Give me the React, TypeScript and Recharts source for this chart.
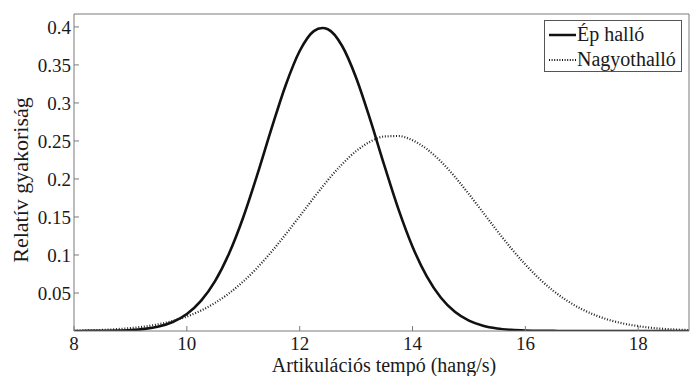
import { Legend, Line, LineChart, XAxis, YAxis } from "recharts";

// articulation rate (syllables/s)
const tempo = [
  8, 8.25, 8.5, 8.75, 9, 9.25, 9.5, 9.75, 10, 10.25, 10.5, 10.75, 11, 11.25, 11.5, 11.75, 12, 12.25, 12.4, 12.5,
  12.75, 13, 13.25, 13.5, 13.75, 14, 14.25, 14.5, 14.75, 15, 15.25, 15.5, 15.75, 16, 16.25, 16.5, 16.75, 17, 17.25,
  17.5, 17.75, 18, 18.25, 18.5, 18.75, 19,
];

const normalHearing = [
  0.0, 0.0001, 0.0002, 0.0005, 0.0012, 0.0028, 0.006, 0.0119, 0.0224, 0.0396, 0.0656, 0.1023, 0.1497, 0.2059, 0.2661,
  0.323, 0.3683, 0.3945, 0.3985, 0.3969, 0.3752, 0.3332, 0.278, 0.2179, 0.1604, 0.1109, 0.0721, 0.044, 0.0252, 0.0136,
  0.0069, 0.0033, 0.0015, 0.0006, 0.0002, 0.0001, 0, 0, 0, 0, 0, 0, 0, 0, 0, 0,
];

const hardOfHearing = [
  0.0005, 0.0009, 0.0014, 0.0024, 0.0038, 0.0059, 0.0089, 0.0132, 0.019, 0.0269, 0.037, 0.0497, 0.0652, 0.0834, 0.1042,
  0.127, 0.151, 0.1753, 0.1894, 0.1985, 0.2194, 0.2366, 0.2491, 0.2559, 0.2565, 0.2509, 0.2395, 0.2232, 0.2029, 0.18,
  0.1559, 0.1317, 0.1086, 0.0874, 0.0686, 0.0526, 0.0393, 0.0287, 0.0205, 0.0142, 0.0096, 0.0064, 0.0041, 0.0026,
  0.0016, 0.001,
];

const xTicks = [8, 10, 12, 14, 16, 18];
const yTicks = [0.05, 0.1, 0.15, 0.2, 0.25, 0.3, 0.35, 0.4];

const data = tempo.map((x, i) => ({ x, ep: normalHearing[i], nagy: hardOfHearing[i] }));

const FONT = "Liberation Serif, Times New Roman, serif";
const FRAME = "#7a7a7a";
const TEXT = "#1a1a1a";

function LegendBox() {
  const rows = [
    { label: "Ép halló", dash: undefined as string | undefined, width: 2.5 },
    { label: "Nagyothalló", dash: "1 1.6", width: 2 },
  ];
  return (
    <div
      style={{
        boxSizing: "border-box",
        width: 138,
        height: 52,
        border: "1px solid #555",
        background: "#fff",
        fontFamily: FONT,
        fontSize: 20,
        color: TEXT,
        padding: "1px 0 0 4px",
        lineHeight: "25px",
      }}
    >
      {rows.map((row) => (
        <div key={row.label} style={{ display: "flex", alignItems: "center", whiteSpace: "nowrap" }}>
          <svg height={6} width={27} style={{ marginRight: 1, flex: "none" }}>
            <line stroke="#111" strokeDasharray={row.dash} strokeWidth={row.width} x1={0} x2={27} y1={3} y2={3} />
          </svg>
          <span>{row.label}</span>
        </div>
      ))}
    </div>
  );
}

export default function App() {
  return (
    <div style={{ position: "absolute", left: 0, top: 0, width: 690, height: 376, background: "#fff" }}>
      <LineChart data={data} height={376} margin={{ top: 13, right: 0, bottom: 44, left: 73 }} width={690}>
        <XAxis
          allowDataOverflow
          axisLine={{ stroke: FRAME }}
          dataKey="x"
          domain={[8, 18.9]}
          fontFamily={FONT}
          fontSize={19}
          height={1}
          tick={{ fill: TEXT, fontFamily: FONT, fontSize: 19 }}
          tickLine={{ stroke: FRAME }}
          tickMargin={11}
          tickSize={-5}
          ticks={xTicks}
          type="number"
          xAxisId="bottom"
        />
        <XAxis
          allowDataOverflow
          axisLine={{ stroke: FRAME }}
          dataKey="x"
          domain={[8, 18.9]}
          height={1}
          orientation="top"
          tick={false}
          tickLine={{ stroke: FRAME }}
          tickSize={-5}
          ticks={xTicks}
          type="number"
          xAxisId="top"
        />
        <YAxis
          allowDataOverflow
          axisLine={{ stroke: FRAME }}
          domain={[0, 0.417]}
          fontFamily={FONT}
          fontSize={19}
          tick={{ fill: TEXT, fontFamily: FONT, fontSize: 19 }}
          tickLine={{ stroke: FRAME }}
          tickMargin={8}
          tickSize={-5}
          ticks={yTicks}
          type="number"
          width={1}
          yAxisId="left"
        />
        <YAxis
          allowDataOverflow
          axisLine={{ stroke: FRAME }}
          domain={[0, 0.417]}
          orientation="right"
          tick={false}
          tickLine={{ stroke: FRAME }}
          tickSize={-5}
          ticks={yTicks}
          type="number"
          width={1}
          yAxisId="right"
        />
        <Legend
          align="center"
          content={() => <LegendBox />}
          layout="vertical"
          verticalAlign="middle"
          wrapperStyle={{ top: 20, left: 544, width: 138, height: 52 }}
        />
        <Line
          dataKey="ep"
          dot={false}
          isAnimationActive={false}
          name="Ép halló"
          stroke="#111"
          strokeWidth={2.6}
          type="monotone"
          xAxisId="bottom"
          yAxisId="left"
        />
        <Line
          dataKey="nagy"
          dot={false}
          isAnimationActive={false}
          name="Nagyothalló"
          stroke="#222"
          strokeDasharray="1 1.8"
          strokeWidth={2.2}
          type="monotone"
          xAxisId="bottom"
          yAxisId="left"
        />
        <text fill={TEXT} fontFamily={FONT} fontSize={20} textAnchor="middle" x={384} y={372}>
          Artikulációs tempó (hang/s)
        </text>
        <text
          fill={TEXT}
          fontFamily={FONT}
          fontSize={22}
          textAnchor="middle"
          transform="rotate(-90 28 180)"
          x={28}
          y={180}
        >
          Relatív gyakoriság
        </text>
      </LineChart>
    </div>
  );
}
